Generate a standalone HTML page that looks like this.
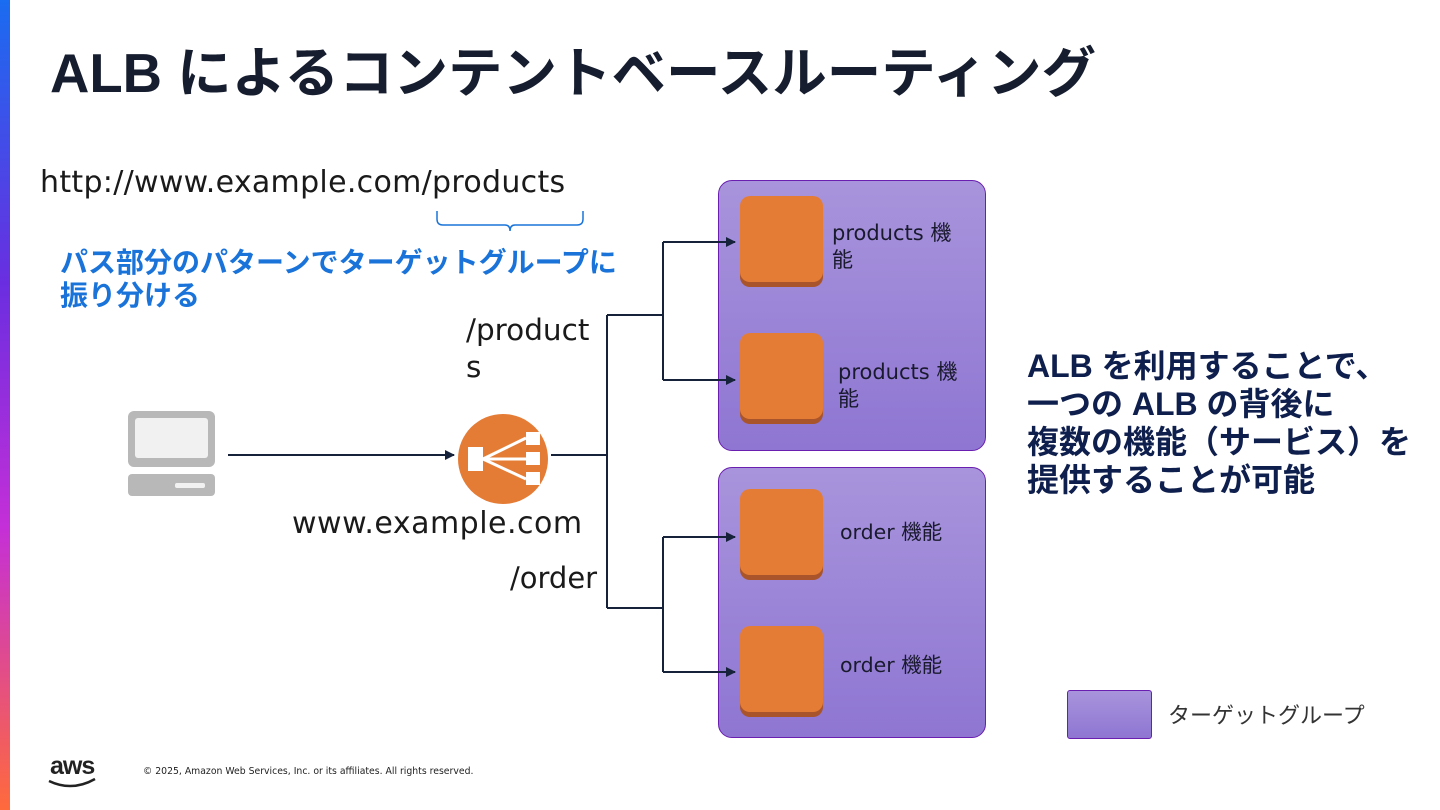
<!DOCTYPE html>
<html><head><meta charset="utf-8"><style>
body{margin:0;width:1440px;height:810px;position:relative;background:#fff;overflow:hidden;font-family:"DejaVu Sans","Noto Sans CJK JP",sans-serif;}
.t{position:absolute;white-space:nowrap;}
.grp{position:absolute;border:1.5px solid #6a1fb0;border-radius:14px;background:linear-gradient(#a894dc,#8e76d2);}
.sq{position:absolute;width:83px;height:86px;background:#e57c36;border-radius:10px;box-shadow:0 5px 0 #a9542a;}
</style></head><body>
<div style="position:absolute;left:0;top:0;width:10px;height:810px;background:linear-gradient(#1a6cf0,#6a2ee0 35%,#c42fd8 65%,#ff6a3c)"></div>
<div class="t" style="left:50px;top:29px;font-size:54.5px;font-weight:bold;color:#161d2e;font-family:'Liberation Sans','Noto Sans CJK JP',sans-serif;">ALB によるコンテントベースルーティング</div>
<div class="t" style="left:40px;top:165px;font-size:30px;color:#1a1a1a;letter-spacing:0.3px;">http://www.example.com/products</div>
<div class="t" style="left:60px;top:246px;font-size:28px;font-weight:bold;color:#1a73d9;line-height:33px;font-family:'Liberation Sans','Noto Sans CJK JP',sans-serif;">パス部分のパターンでターゲットグループに<br>振り分ける</div>
<div class="t" style="left:466px;top:312px;font-size:29.5px;color:#1a1a1a;line-height:37px;">/product<br>s</div>
<div class="t" style="left:292px;top:506px;font-size:30px;color:#1a1a1a;letter-spacing:0.5px;">www.example.com</div>
<div class="t" style="left:510px;top:561px;font-size:29px;color:#1a1a1a;">/order</div>
<div class="grp" style="left:718px;top:180px;width:266px;height:269px;"></div>
<div class="grp" style="left:718px;top:467px;width:266px;height:269px;"></div>
<div class="sq" style="left:740px;top:196px;"></div>
<div class="sq" style="left:740px;top:333px;"></div>
<div class="sq" style="left:740px;top:489px;"></div>
<div class="sq" style="left:740px;top:626px;"></div>
<div class="t" style="left:832px;top:220px;font-size:21px;color:#1a1a2e;line-height:27px;">products 機<br>能</div>
<div class="t" style="left:838px;top:359px;font-size:21px;color:#1a1a2e;line-height:27px;">products 機<br>能</div>
<div class="t" style="left:840px;top:515px;font-size:20.5px;color:#1a1a2e;">order 機能</div>
<div class="t" style="left:840px;top:648px;font-size:20.5px;color:#1a1a2e;">order 機能</div>
<div class="t" style="left:1027px;top:347px;font-size:32px;font-weight:bold;color:#0f1f4d;line-height:38px;font-family:'Liberation Sans','Noto Sans CJK JP',sans-serif;">ALB を利用することで、<br>一つの ALB の背後に<br>複数の機能（サービス）を<br>提供することが可能</div>
<div class="grp" style="left:1067px;top:690px;width:83px;height:47px;border-radius:3px;"></div>
<div class="t" style="left:1168px;top:698px;font-size:22px;color:#333;">ターゲットグループ</div>
<div class="t" style="left:50px;top:752px;font-size:25px;font-weight:bold;color:#222;letter-spacing:-1px;font-family:'Liberation Sans',sans-serif;">aws</div>
<div class="t" style="left:143px;top:766px;font-size:9.3px;color:#222;">© 2025, Amazon Web Services, Inc. or its affiliates. All rights reserved.</div>
<svg width="1440" height="810" style="position:absolute;left:0;top:0">
<defs><marker id="a" markerWidth="10" markerHeight="10" refX="9" refY="5" orient="auto" markerUnits="userSpaceOnUse"><path d="M0,0L10,5L0,10z" fill="#16213a"/></marker></defs>
<path d="M49,781 Q72,792 95,779" stroke="#222" stroke-width="2.5" fill="none"/>
<path d="M437,211v8q0,6 6,6h62q5,0 5,6q0,-6 5,-6h62q6,0 6,-6v-8" stroke="#1a73d9" stroke-width="1.5" fill="none"/>
<g stroke="#16213a" stroke-width="2" fill="none">
<line x1="228" y1="455" x2="454" y2="455" marker-end="url(#a)"/>
<path d="M551,455H607M607,315V608M607,315H663M607,608H663M663,242V380M663,537V672"/>
<line x1="663" y1="242" x2="735" y2="242" marker-end="url(#a)"/>
<line x1="663" y1="380" x2="735" y2="380" marker-end="url(#a)"/>
<line x1="663" y1="537" x2="735" y2="537" marker-end="url(#a)"/>
<line x1="663" y1="672" x2="735" y2="672" marker-end="url(#a)"/>
</g>
<rect x="128" y="411" width="87" height="56" rx="6" fill="#b8b8b8"/>
<rect x="135" y="418" width="73" height="40" rx="3" fill="#f1f1f1"/>
<rect x="128" y="474" width="87" height="22" rx="4" fill="#b8b8b8"/>
<rect x="175" y="483" width="30" height="5" rx="2" fill="#f1f1f1"/>
<circle cx="503" cy="459" r="45" fill="#e57c36"/>
<g fill="#fff" stroke="#fff">
<rect x="468" y="447" width="15" height="24" stroke="none"/>
<rect x="526" y="432" width="14" height="13" stroke="none"/>
<rect x="526" y="452" width="14" height="13" stroke="none"/>
<rect x="526" y="472" width="14" height="13" stroke="none"/>
<path d="M483,459L526,438M483,459H526M483,459L526,479" stroke-width="3" fill="none"/>
</g>
</svg>
</body></html>
